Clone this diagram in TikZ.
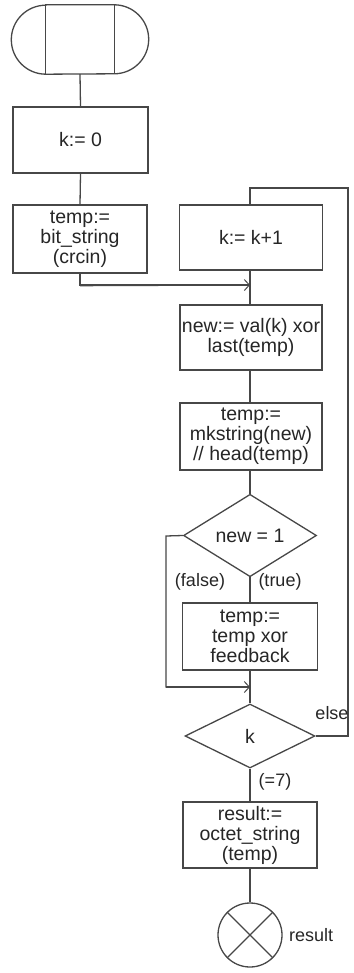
\documentclass[tikz,border=0pt]{standalone}
\usepackage{fontspec}
\setmainfont{Liberation Sans}
\usetikzlibrary{shapes.geometric,arrows.meta,calc}
\begin{document}
\begin{tikzpicture}[x=1pt,y=-1pt,
  every node/.style={font=\fontsize{19.5}{20}\selectfont, text=black!85},
  ln/.style={draw=black!72, line width=1.3pt},
  boxn/.style={ln, rectangle, inner sep=0pt, align=center},
  dia/.style={ln, diamond, inner sep=0pt, align=center},
  lbl/.style={inner sep=1pt, font=\fontsize{18}{20}\selectfont},
  tip/.style={-{Straight Barb[length=5pt,width=11pt,line width=1pt]}}
]
\useasboundingbox (0,0) rectangle (353,973);
% start terminal
\node[minimum width=68pt, minimum height=69pt, inner sep=0pt] (start) at (80,39.5) {};
\draw[ln] (start.north west) -- (start.north east) arc[start angle=90,end angle=-90,radius=34.5pt]
  -- (start.south west) arc[start angle=270,end angle=90,radius=34.5pt] -- cycle;
\draw[ln] (start.north west) -- (start.south west);
\draw[ln] (start.north east) -- (start.south east);
% left column
\node[boxn, minimum width=135pt, minimum height=66pt] (k0) at (80.5,140) {k:= 0};
\node[boxn, minimum width=134pt, minimum height=68pt] (tb) at (80,239) {temp:=\\bit\_string\\(crcin)};
% main column
\node[boxn, minimum width=143pt, minimum height=65pt] (kinc) at (251,237.5) {k:= k+1};
\node[boxn, minimum width=142pt, minimum height=65pt] (newb) at (251,337.5) {new:= val(k) xor\\last(temp)};
\node[boxn, minimum width=142pt, minimum height=67pt] (tm) at (251,436.5) {temp:=\\mkstring(new)\\// head(temp)};
\node[dia, minimum width=133pt, minimum height=65pt] (d1) at (250,535.5) {new = 1};
\node[boxn, minimum width=135pt, minimum height=67pt] (tx) at (250,636.5) {temp:=\\temp xor\\feedback};
\node[dia, minimum width=130pt, minimum height=64pt] (dk) at (250,736) {k};
\node[boxn, minimum width=134pt, minimum height=66pt] (rb) at (250,835) {result:=\\octet\_string\\(temp)};
\node[ln, circle, minimum size=64pt, inner sep=0pt] (out) at (250,935) {};
\draw[ln] (out.45) -- (out.225);
\draw[ln] (out.135) -- (out.315);
% coordinates
\coordinate (entry) at (250,285);
\coordinate (merge) at (250,687);
\coordinate (fl) at (166,536);
\coordinate (lr) at (348,188);
% connectors
\draw[ln] (start.south) -- (k0.north);
\draw[ln] (k0.south) -- (tb.north);
\draw[ln] (tb.south) |- (entry);
\draw[ln, tip] ($(tb.south)+(0,12)$) -- (entry);
\draw[ln] (kinc.south -| entry) -- (newb.north -| entry);
\draw[ln] (newb.south -| entry) -- (tm.north -| entry);
\draw[ln] (tm.south -| entry) -- (d1.north);
\draw[ln] (d1.south) -- (tx.north);
\draw[ln] (tx.south) -- (dk.north);
\draw[ln] (d1.west) -- (fl) |- (merge);
\draw[ln, tip] (fl |- merge) -- (merge);
\draw[ln] (dk.east) -| (lr) -| (kinc.north -| entry);
\draw[ln] (dk.south) -- (rb.north);
\draw[ln] (rb.south) -- (out.north);
% labels
\node[lbl] (lf) at (200,582) {(false)};
\node[lbl] (lt) at (280,582) {(true)};
\node[lbl] (le) at (332,713) {else};
\node[lbl] (l7) at (275,782) {(=7)};
\node[lbl, anchor=west] (lres) at (288,935) {result};
\end{tikzpicture}
\end{document}
